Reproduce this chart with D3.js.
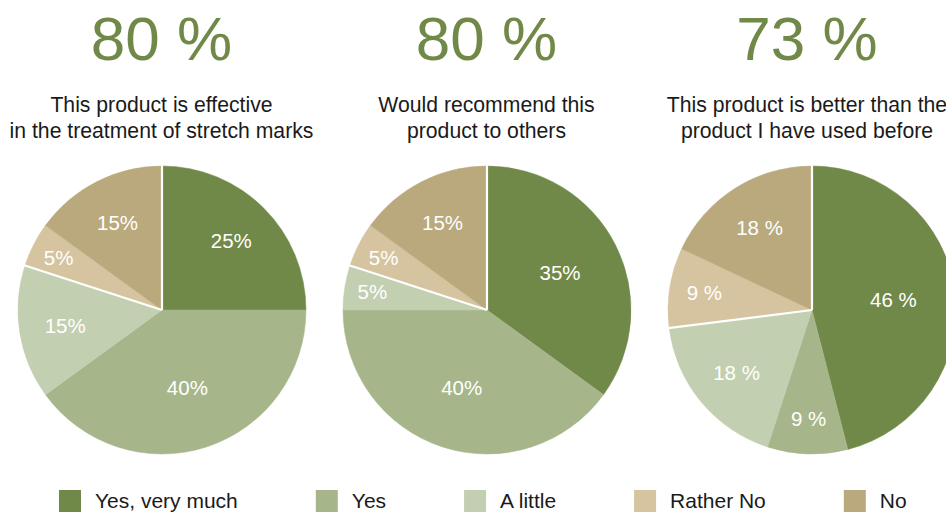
<!DOCTYPE html>
<html><head><meta charset="utf-8">
<script src="https://cdn.jsdelivr.net/npm/d3@7/dist/d3.min.js"></script>
<style>body{margin:0;background:#fff;}svg{display:block;font-family:"Liberation Sans",Arial,sans-serif;}</style>
</head><body><svg id="c" width="946" height="514"></svg>
<script>
const categories = ["Yes, very much", "Yes", "A little", "Rather No", "No"];
const headline = ["80 %", "80 %", "73 %"];
const questions = [
  ["This product is effective", "in the treatment of stretch marks"],
  ["Would recommend this", "product to others"],
  ["This product is better than the", "product I have used before"]
];
const pie1 = [25, 40, 15, 5, 15];
const pie2 = [35, 40, 5, 5, 15];
const pie3 = [46, 9, 18, 9, 18];
const labelSuffix = ["%", "%", " %"];
const colors = ["#718948", "#a6b68a", "#c3cfb1", "#d5c49f", "#b9a97d"];

const series = [pie1, pie2, pie3];
const svg = d3.select("#c");
const x = d3.scalePoint().domain([0,1,2]).range([162, 812]);
const xt = d3.scaleOrdinal().domain([0,1,2]).range([161.5, 486.5, 807]);
const R = 144, cy = 310;
const color = d3.scaleOrdinal().domain(categories).range(colors);
const pie = d3.pie().sort(null).value(d => d.v);
const arc = d3.arc().innerRadius(0).outerRadius(R);
const labelR = v => v <= 6 ? 116 : v <= 10 ? 109 : v <= 30 ? 98 : 82;

series.forEach((vals, i) => {
  const cx = x(i);
  const g = svg.append("g");
  g.append("text").attr("x", xt(i)).attr("y", 59.5).attr("text-anchor", "middle")
    .attr("font-size", 62).attr("fill", "#718948").text(headline[i]);
  questions[i].forEach((line, j) => {
    g.append("text").attr("x", xt(i)).attr("y", 112 + j * 25.5).attr("text-anchor", "middle")
      .attr("font-size", 21.2).attr("fill", "#1a1a1a").text(line);
  });
  const data = pie(vals.map((v, k) => ({v, c: categories[k]})));
  const pg = g.append("g").attr("transform", `translate(${cx},${cy})`);
  pg.selectAll("path").data(data).enter().append("path")
    .attr("d", arc).attr("fill", d => color(d.data.c))
    .attr("stroke", d => color(d.data.c)).attr("stroke-width", 0.5);
  // white separators: start of the pie and boundary between "A little" and "Rather No"
  [data[0].startAngle, data[3].startAngle].forEach(a => {
    pg.append("line").attr("x1", 0).attr("y1", 0)
      .attr("x2", Math.sin(a) * (R + 1)).attr("y2", -Math.cos(a) * (R + 1))
      .attr("stroke", "#fff").attr("stroke-width", 2.2);
  });
  pg.selectAll("text.lbl").data(data).enter().append("text")
    .attr("class", "lbl")
    .attr("transform", d => {
      const r = labelR(d.data.v);
      const a = (d.startAngle + d.endAngle) / 2;
      return `translate(${Math.sin(a) * r},${-Math.cos(a) * r})`;
    })
    .attr("text-anchor", "middle").attr("dy", "0.36em")
    .attr("font-size", 20.5).attr("fill", "#fff")
    .text(d => d.data.v + labelSuffix[i]);
});

// legend
const lg = svg.append("g");
let lx = 59;
categories.forEach((c, k) => {
  lg.append("rect").attr("x", lx).attr("y", 490).attr("width", 22).attr("height", 22).attr("fill", color(c));
  const t = lg.append("text").attr("x", lx + 36).attr("y", 508).attr("font-size", 21)
    .attr("fill", "#1a1a1a").text(c);
  lx += 36 + t.node().getComputedTextLength() + 78;
});
</script></body></html>
